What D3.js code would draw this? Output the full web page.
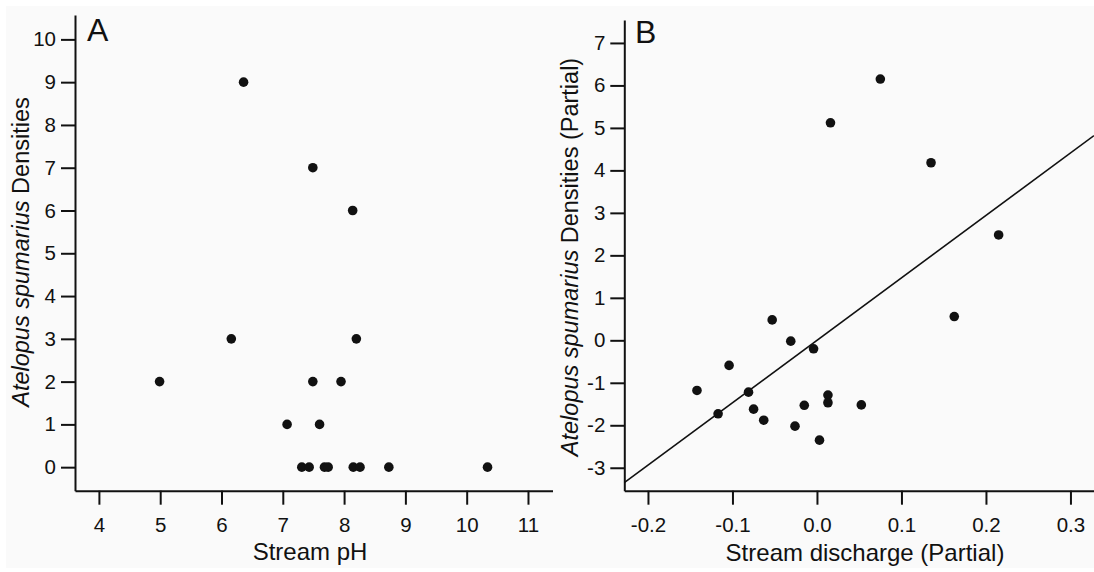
<!DOCTYPE html>
<html>
<head>
<meta charset="utf-8">
<script src="https://cdn.jsdelivr.net/npm/d3@7"></script>
<style>
  html, body { margin: 0; padding: 0; background: #fff; }
  svg text { font-family: Arial, 'Liberation Sans', sans-serif; fill: #111; }
</style>
</head>
<body>
<div class="chart"></div>
<script>
/* global d3 */
// panel A: raw densities against stream pH
var phValues = [6.36, 7.49, 8.14, 6.16, 8.20, 4.99, 7.49, 7.95, 7.07, 7.60,
  7.31, 7.43, 7.68, 7.74, 8.15, 8.26, 8.73, 10.34]
var densityValues = [9, 7, 6, 3, 3, 2, 2, 2, 1, 1,
  0, 0, 0, 0, 0, 0, 0, 0]
var phTicks = [4, 5, 6, 7, 8, 9, 10, 11]
var densityTicks = [0, 1, 2, 3, 4, 5, 6, 7, 8, 9, 10]

// panel B: partial residuals against stream discharge
var dischargePartial = [0.075, 0.016, 0.135, 0.215, 0.1625, -0.053, -0.031, -0.004, -0.104, -0.142,
  -0.081, -0.117, -0.075, -0.063, -0.015, 0.013, 0.013, 0.0525, -0.026, 0.003]
var densityPartial = [6.15, 5.12, 4.18, 2.48, 0.56, 0.48, -0.02, -0.20, -0.59, -1.18,
  -1.22, -1.73, -1.62, -1.88, -1.53, -1.29, -1.47, -1.52, -2.02, -2.35]
var dischargeTicks = [-0.2, -0.1, 0.0, 0.1, 0.2, 0.3]
var partialTicks = [-3, -2, -1, 0, 1, 2, 3, 4, 5, 6, 7]
var fitIntercept = 0
var fitSlope = 14.7

var width = 1094
var height = 572
var ink = '#111'

var svg = d3.select('.chart')
  .append('svg')
  .attr('width', width)
  .attr('height', height)

svg.append('rect')
  .attr('x', 6)
  .attr('y', 6)
  .attr('width', width - 6)
  .attr('height', height - 10)
  .attr('fill', '#fafafa')

function hyphen (fmt) {
  return function (d) { return fmt(d).replace('\u2212', '-') }
}

function styleAxis (g) {
  g.select('.domain').attr('stroke', ink).attr('stroke-width', 2)
  g.selectAll('.tick line').attr('stroke', ink).attr('stroke-width', 2)
  g.selectAll('.tick text')
    .attr('fill', ink)
    .style('font-size', '20.5px')
    .style('font-family', 'Arial, "Liberation Sans", sans-serif')
}

function drawPanel (opt) {
  var g = svg.append('g')

  g.append('g')
    .attr('transform', 'translate(0,' + opt.y.range()[0] + ')')
    .call(d3.axisBottom(opt.x).tickValues(opt.xTicks).tickSize(14).tickSizeOuter(0)
      .tickPadding(13).tickFormat(opt.xFormat))
    .call(styleAxis)

  g.append('g')
    .attr('transform', 'translate(' + opt.x.range()[0] + ',0)')
    .call(d3.axisLeft(opt.y).tickValues(opt.yTicks).tickSize(14).tickSizeOuter(0)
      .tickPadding(5).tickFormat(hyphen(d3.format('d'))))
    .call(styleAxis)

  if (opt.fit) {
    var x0 = opt.x.domain()[0]
    var x1 = opt.x.invert(width)
    g.append('line')
      .attr('x1', opt.x(x0))
      .attr('y1', opt.y(opt.fit[0] + opt.fit[1] * x0))
      .attr('x2', opt.x(x1))
      .attr('y2', opt.y(opt.fit[0] + opt.fit[1] * x1))
      .attr('stroke', ink)
      .attr('stroke-width', 1.6)
  }

  g.selectAll('circle')
    .data(opt.xs)
    .enter()
    .append('circle')
    .attr('cx', function (d) { return opt.x(d) })
    .attr('cy', function (d, i) { return opt.y(opt.ys[i]) })
    .attr('r', 4.8)
    .attr('fill', ink)

  g.append('text')
    .attr('x', opt.letterPos[0])
    .attr('y', opt.letterPos[1])
    .style('font-size', '32px')
    .text(opt.letter)

  g.append('text')
    .attr('x', opt.xTitlePos[0])
    .attr('y', opt.xTitlePos[1])
    .attr('text-anchor', 'middle')
    .style('font-size', '24px')
    .text(opt.xTitle)

  var yt = g.append('text')
    .attr('transform', 'translate(' + opt.yTitlePos[0] + ',' + opt.yTitlePos[1] + ') rotate(-90)')
    .attr('text-anchor', 'middle')
    .style('font-size', '23.5px')
  yt.append('tspan').style('font-style', 'italic').text('Atelopus spumarius')
  yt.append('tspan').text(opt.yTitleRest)
}

drawPanel({
  x: d3.scaleLinear().domain([3.61, 11.4]).range([75, 552.5]),
  y: d3.scaleLinear().domain([-0.55, 10.57]).range([490.7, 15]),
  xs: phValues,
  ys: densityValues,
  xTicks: phTicks,
  yTicks: densityTicks,
  xFormat: d3.format('d'),
  letter: 'A',
  letterPos: [87, 41],
  xTitle: 'Stream pH',
  xTitlePos: [310, 560],
  yTitleRest: ' Densities',
  yTitlePos: [29, 252]
})

drawPanel({
  x: d3.scaleLinear().domain([-0.228, 0.3326]).range([624.3, 1098]),
  y: d3.scaleLinear().domain([-3.54, 7.54]).range([490.7, 20]),
  xs: dischargePartial,
  ys: densityPartial,
  xTicks: dischargeTicks,
  yTicks: partialTicks,
  xFormat: hyphen(d3.format('.1f')),
  fit: [fitIntercept, fitSlope],
  letter: 'B',
  letterPos: [635, 43],
  xTitle: 'Stream discharge (Partial)',
  xTitlePos: [865, 561],
  yTitleRest: ' Densities (Partial)',
  yTitlePos: [577.5, 257]
})
</script>
</body>
</html>
